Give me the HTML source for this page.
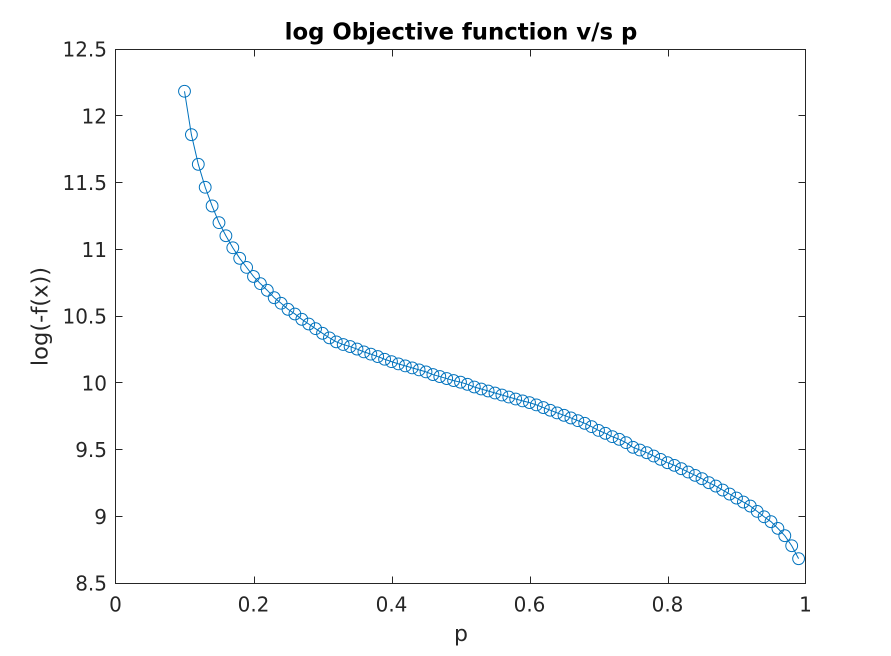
<!DOCTYPE html>
<html lang="en">
<head>
<meta charset="utf-8">
<title>log Objective function v/s p</title>
<style>
html,body{margin:0;padding:0;background:#fff;}
svg{display:block;}
text{font-family:"DejaVu Sans",sans-serif;}
</style>
</head>
<body>
<svg id="chart" xmlns="http://www.w3.org/2000/svg" width="891" height="656" viewBox="0 0 891 656">
  <rect x="0" y="0" width="891" height="656" fill="#ffffff"/>
  <rect x="115.5" y="49.5" width="690" height="534" fill="#ffffff"/>
  <g id="series"></g>
  <g id="axes"></g>
  <text x="461" y="39.5" text-anchor="middle" font-size="22.8" font-weight="bold" fill="#000000">log Objective function v/s p</text>
  <text x="461" y="641" text-anchor="middle" font-size="22" fill="#262626">p</text>
  <text transform="translate(47.5,316.5) rotate(-90)" text-anchor="middle" font-size="22.6" fill="#262626">log(-f(x))</text>
</svg>
<script>
const pValues = [0.10,0.11,0.12,0.13,0.14,0.15,0.16,0.17,0.18,0.19,0.20,0.21,0.22,0.23,0.24,0.25,0.26,0.27,0.28,0.29,0.30,0.31,0.32,0.33,0.34,0.35,0.36,0.37,0.38,0.39,0.40,0.41,0.42,0.43,0.44,0.45,0.46,0.47,0.48,0.49,0.50,0.51,0.52,0.53,0.54,0.55,0.56,0.57,0.58,0.59,0.60,0.61,0.62,0.63,0.64,0.65,0.66,0.67,0.68,0.69,0.70,0.71,0.72,0.73,0.74,0.75,0.76,0.77,0.78,0.79,0.80,0.81,0.82,0.83,0.84,0.85,0.86,0.87,0.88,0.89,0.90,0.91,0.92,0.93,0.94,0.95,0.96,0.97,0.98,0.99];
const logValues = [12.187,11.862,11.64,11.468,11.328,11.203,11.105,11.015,10.936,10.868,10.80,10.746,10.696,10.641,10.599,10.554,10.519,10.479,10.444,10.409,10.374,10.34,10.31,10.29,10.275,10.256,10.235,10.218,10.2,10.18,10.162,10.145,10.13,10.115,10.1,10.085,10.065,10.05,10.035,10.02,10.008,9.992,9.972,9.957,9.942,9.927,9.912,9.897,9.882,9.868,9.855,9.838,9.818,9.798,9.778,9.76,9.74,9.72,9.70,9.675,9.647,9.625,9.60,9.58,9.555,9.52,9.50,9.48,9.455,9.43,9.405,9.385,9.36,9.335,9.31,9.285,9.255,9.23,9.20,9.17,9.14,9.11,9.08,9.04,9.00,8.963,8.913,8.858,8.783,8.686];
const xTickValues = [0,0.2,0.4,0.6,0.8,1];
const xTickLabels = ["0","0.2","0.4","0.6","0.8","1"];
const yTickValues = [8.5,9,9.5,10,10.5,11,11.5,12,12.5];
const yTickLabels = ["8.5","9","9.5","10","10.5","11","11.5","12","12.5"];
const xMin = 0;
const xMax = 1;
const yMin = 8.5;
const yMax = 12.5;

const plotLeft = 115.5;
const plotRight = 805.5;
const plotTop = 49.5;
const plotBottom = 583.5;
const tickLength = 7;
const axisColor = "#262626";
const seriesColor = "#0072BD";
const NS = "http://www.w3.org/2000/svg";

function xScale(v) {
  return plotLeft + (v - xMin) / (xMax - xMin) * (plotRight - plotLeft);
}
function yScale(v) {
  return plotBottom - (v - yMin) / (yMax - yMin) * (plotBottom - plotTop);
}
function make(tag, attrs, parent) {
  const el = document.createElementNS(NS, tag);
  for (const k in attrs) el.setAttribute(k, attrs[k]);
  parent.appendChild(el);
  return el;
}

const seriesGroup = document.getElementById("series");
const axesGroup = document.getElementById("axes");

const linePoints = pValues.map(function (p, i) {
  return xScale(p).toFixed(2) + "," + yScale(logValues[i]).toFixed(2);
}).join(" ");
const seriesLine = make("polyline", { points: linePoints, fill: "none", stroke: seriesColor, "stroke-width": 1 }, seriesGroup);



pValues.forEach(function (p, i) {
  const marker = make("circle", { cx: xScale(p), cy: yScale(logValues[i]), r: 5.9, fill: "none", stroke: seriesColor, "stroke-width": 1 }, seriesGroup);
  
  
});

const axisBox = make("rect", { x: plotLeft, y: plotTop, width: plotRight - plotLeft, height: plotBottom - plotTop, fill: "none", stroke: axisColor, "stroke-width": 1 }, axesGroup);



xTickValues.forEach(function (v, i) {
  const interior = v > xMin && v < xMax;
  const x = interior ? Math.floor(xScale(v)) + 1.5 : xScale(v);
  const bottomTick = make("line", { x1: x, x2: x, y1: plotBottom, y2: plotBottom - tickLength, stroke: axisColor, "stroke-width": 1 }, axesGroup);
  
  
  const topTick = make("line", { x1: x, x2: x, y1: plotTop, y2: plotTop + tickLength, stroke: axisColor, "stroke-width": 1 }, axesGroup);
  
  
  const label = make("text", { x: xScale(v), y: 611.5, "text-anchor": "middle", "font-size": 20, fill: axisColor }, axesGroup);
  
  
  label.textContent = xTickLabels[i];
});

yTickValues.forEach(function (v, i) {
  const y = Math.floor(yScale(v) - 0.5) + 0.5;
  const leftTick = make("line", { x1: plotLeft, x2: plotLeft + tickLength, y1: y, y2: y, stroke: axisColor, "stroke-width": 1 }, axesGroup);
  
  
  const rightTick = make("line", { x1: plotRight, x2: plotRight - tickLength, y1: y, y2: y, stroke: axisColor, "stroke-width": 1 }, axesGroup);
  
  
  const label = make("text", { x: 107, y: yScale(v) + 7, "text-anchor": "end", "font-size": 20, fill: axisColor }, axesGroup);
  
  
  label.textContent = yTickLabels[i];
});
</script>
</body>
</html>
